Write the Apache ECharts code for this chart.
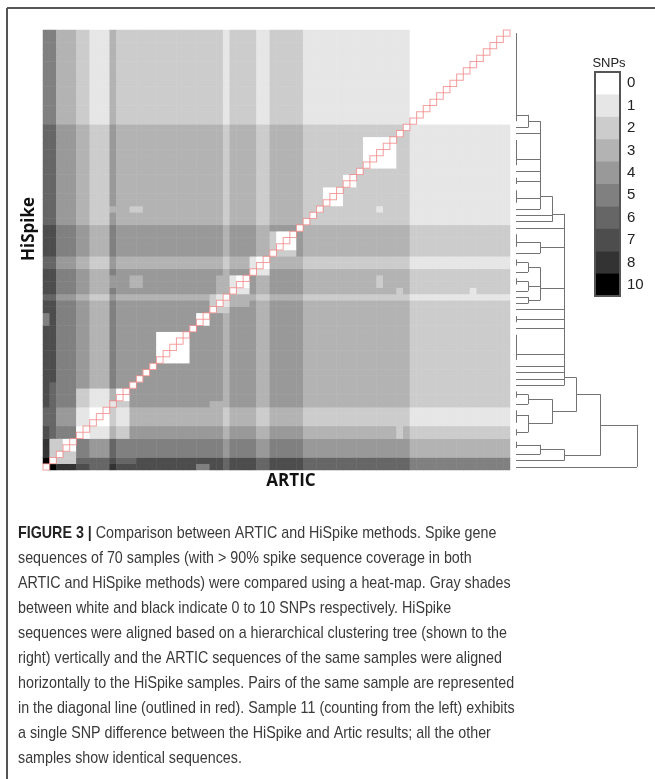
<!DOCTYPE html>
<html><head><meta charset="utf-8">
<script src="https://cdn.jsdelivr.net/npm/echarts@6/dist/echarts.min.js"></script>
<style>html,body{margin:0;padding:0;background:#fff}#c{width:655px;height:779px}</style>
</head><body><div id="c"></div>
<script>
// ---------- data ----------
const samples = ['1','2','3','4','5','6','7','8','9','10','11','12','13','14','15','16','17','18','19','20',
 '21','22','23','24','25','26','27','28','29','30','31','32','33','34','35','36','37','38','39','40',
 '41','42','43','44','45','46','47','48','49','50','51','52','53','54','55','56','57','58','59','60',
 '61','62','63','64','65','66','67','68','69','70'];
// sample groups (first,last) along both axes, counted from bottom-left
const groupRanges = [[1,2],[3,5],[6,7],[8,10],[11,11],[12,27],[28,28],[29,32],[33,34],[35,39],[40,55],[56,70]];
// SNPs between groups (HiSpike row group x ARTIC column group)
const bandSNPs = [
 [10,8,7,6,7,7,6,7,6,7,6,5],
 [8,6,5,4,5,5,4,5,4,5,4,3],
 [7,5,4,3,4,4,3,4,3,4,3,2],
 [6,4,3,2,3,3,2,3,2,3,2,1],
 [7,5,4,3,4,4,3,4,3,4,3,2],
 [7,5,4,3,4,4,3,4,3,4,3,2],
 [6,4,3,2,3,3,2,3,2,3,2,1],
 [7,5,4,3,4,4,3,4,3,4,3,2],
 [6,4,3,2,3,3,2,3,2,3,2,1],
 [7,5,4,3,4,4,3,4,3,4,3,2],
 [6,4,3,2,3,3,2,3,2,3,2,1],
 [5,3,2,1,2,2,1,2,1,2,1,0]
];
// closer pairs inside clusters: [row from,row to,col from,col to,SNPs] (both ways)
const sharedBlocks = [
 [2,5,2,5,2],[4,5,4,5,0],
 [6,13,6,13,2],[6,10,6,10,1],[6,7,6,7,0],[8,10,8,10,0],[8,10,11,13,1],[12,13,12,13,0],
 [18,22,18,22,0],[24,25,24,25,0],[26,28,26,28,2],[27,28,27,28,1],
 [29,31,29,31,1],[30,31,30,31,0],[32,34,32,34,1],[33,34,33,34,0],
 [35,38,35,38,2],[36,38,36,38,0],
 [43,45,43,45,0],[46,47,46,47,0],[49,53,49,53,0],
 [1,1,24,25,5],[2,2,6,14,6],[27,27,29,31,3]
];
// ARTIC sample with an extra SNP: [column, extra SNPs]
const articExtra = [[11,1]];
// single odd cells: [col from,col to,row from,row to,SNPs]
const oddCells = [
 [11,11,42,42,3],[14,15,42,42,2],[51,51,42,42,1],
 [11,11,30,31,4],[14,15,30,31,3],[51,51,30,31,2],
 [54,54,29,29,2],[65,65,29,29,1],[54,54,6,7,2],[26,27,11,11,3]
];
// clustering tree: [height, children...], leaves = sample numbers
const tree =
[10,
  [7,
    [5,
      [4,
        [3,
          [2, [1, [0,70,69,68,67,66,65,64,63,62,61,60,59,58,57,56], 55], 54, [0,53,52,51,50,49], 48, [0,47,46], [0,45,44,43], 42],
          41, 40],
        39,
        [2, [0,38,37,36], 35],
        [2, [1,[0,34,33],32], [1,[0,31,30],29], [1,28,27]],
        26, [0,25,24], 23, [0,22,21,20,19,18], 17, 16, 15, 14],
      [3, [1,[0,13,12],11], [1,[0,8,9,10],[0,7,6]]]],
    [4, [2, [0,5,4], 3], 2]],
  1];
const legendValues = [0,1,2,3,4,5,6,7,8,10];
const legendLabels = ['0','1','2','3','4','5','6','7','8','10'];
const captionLines = [
 'Comparison between ARTIC and HiSpike methods. Spike gene',
 'sequences of 70 samples (with > 90% spike sequence coverage in both',
 'ARTIC and HiSpike methods) were compared using a heat-map. Gray shades',
 'between white and black indicate 0 to 10 SNPs respectively. HiSpike',
 'sequences were aligned based on a hierarchical clustering tree (shown to the',
 'right) vertically and the ARTIC sequences of the same samples were aligned',
 'horizontally to the HiSpike samples. Pairs of the same sample are represented',
 'in the diagonal line (outlined in red). Sample 11 (counting from the left) exhibits',
 'a single SNP difference between the HiSpike and Artic results; all the other',
 'samples show identical sequences.'
];

// ---------- build ----------
const N = samples.length;
const groupOf = [];
groupRanges.forEach((g, gi) => { for (let s = g[0]; s <= g[1]; s++) groupOf[s] = gi; });
const M = [];
for (let r = 1; r <= N; r++) { M[r] = []; for (let c = 1; c <= N; c++) M[r][c] = r === c ? 0 : bandSNPs[groupOf[r]][groupOf[c]]; }
sharedBlocks.forEach(([a0,a1,b0,b1,v]) => {
  for (let r = a0; r <= a1; r++) for (let c = b0; c <= b1; c++) if (r !== c) { M[r][c] = v; M[c][r] = v; }
});
articExtra.forEach(([c,e]) => { for (let r = 1; r <= N; r++) M[r][c] += e; });
oddCells.forEach(([c0,c1,r0,r1,v]) => { for (let r = r0; r <= r1; r++) for (let c = c0; c <= c1; c++) M[r][c] = v; });
const heat = [];
for (let r = 1; r <= N; r++) for (let c = 1; c <= N; c++) heat.push([c-1, r-1, M[r][c]]);
const diag = samples.map((s, i) => [i, i]);

const segs = [];
function lay(node) {
  if (typeof node === 'number') return {y: node, h: 0};
  const h = node[0];
  const kids = node.slice(1).map(lay);
  const ys = kids.map(k => k.y);
  segs.push({coords: [[h, Math.min(...ys)], [h, Math.max(...ys)]]});
  kids.forEach(k => { if (k.h !== h) segs.push({coords: [[k.h, k.y], [h, k.y]]}); });
  let p = kids[0].y; for (let i = 1; i < kids.length; i++) p = (p + kids[i].y) / 2;
  return {y: p, h: h};
}
lay(tree);

// ---------- layout ----------
const G = {left: 43, top: 30, width: 467, height: 440};
const cw = G.width / N, ch = G.height / N;
const gray = v => { const g = Math.round(255 * (1 - v / 10)); return 'rgb(' + g + ',' + g + ',' + g + ')'; };

const graphic = [
  {type:'line', shape:{x1:7, y1:8, x2:655, y2:8}, style:{stroke:'#555', lineWidth:2}},
  {type:'line', shape:{x1:7, y1:8, x2:7, y2:779}, style:{stroke:'#555', lineWidth:2}},
  {type:'text', x:29, y:229, rotation:Math.PI/2, style:{text:'HiSpike', font:'bold 17px "Open Sans"', fill:'#111', align:'center', verticalAlign:'middle'}},
  {type:'text', x:291, y:481, style:{text:'ARTIC', font:'bold 17px "Open Sans"', fill:'#111', align:'center', verticalAlign:'middle'}},
  {type:'text', x:609, y:63, style:{text:'SNPs', font:'13px "Liberation Sans"', fill:'#222', align:'center', verticalAlign:'middle'}}
];
const lgTop = 72, lgH = 22.4;
legendValues.forEach((v, i) => {
  graphic.push({type:'rect', shape:{x:595, y:lgTop + i*lgH, width:25, height:lgH + 0.5}, style:{fill:gray(v)}});
  graphic.push({type:'text', x:627, y:lgTop + (i+0.5)*lgH, style:{text:legendLabels[i], font:'15px "Liberation Sans"', fill:'#222', align:'left', verticalAlign:'middle'}});
});
graphic.push({type:'rect', shape:{x:595, y:lgTop, width:25, height:lgH*legendValues.length}, style:{fill:null, stroke:'#555', lineWidth:2}});
captionLines.forEach((t, i) => {
  graphic.push({type:'text', x:18, y:533 + i*25, scaleX:0.84,
    style:{text: i === 0 ? '{b|FIGURE 3 |} ' + t : t, font:'17px "Liberation Sans"', fill:'#3a3a3a', align:'left', verticalAlign:'middle',
      rich:{b:{font:'bold 17px "Liberation Sans"', fill:'#222'}}}});
});

const chart = echarts.init(document.getElementById('c'), null, {renderer:'canvas'});
chart.setOption({
  animation: false,
  grid: [G, {left:516, top:30, width:121, height:440}],
  xAxis: [{type:'category', data:samples, gridIndex:0, show:false},
          {type:'value', gridIndex:1, min:0, max:10, show:false}],
  yAxis: [{type:'category', data:samples, gridIndex:0, show:false},
          {type:'value', gridIndex:1, min:0.5, max:70.5, show:false}],
  visualMap: {show:false, min:0, max:10, seriesIndex:0, inRange:{color:['#ffffff','#000000']}},
  series: [
    {type:'heatmap', xAxisIndex:0, yAxisIndex:0, data:heat, silent:true},
    {type:'scatter', xAxisIndex:0, yAxisIndex:0, data:diag, symbol:'rect', symbolSize:[cw, ch], silent:true,
     itemStyle:{color:'rgba(0,0,0,0)', borderColor:'#f08a8a', borderWidth:1}},
    {type:'lines', coordinateSystem:'cartesian2d', xAxisIndex:1, yAxisIndex:1, data:segs, silent:true,
     lineStyle:{color:'#737373', width:1, opacity:1}}
  ],
  graphic: graphic
});
</script></body></html>
